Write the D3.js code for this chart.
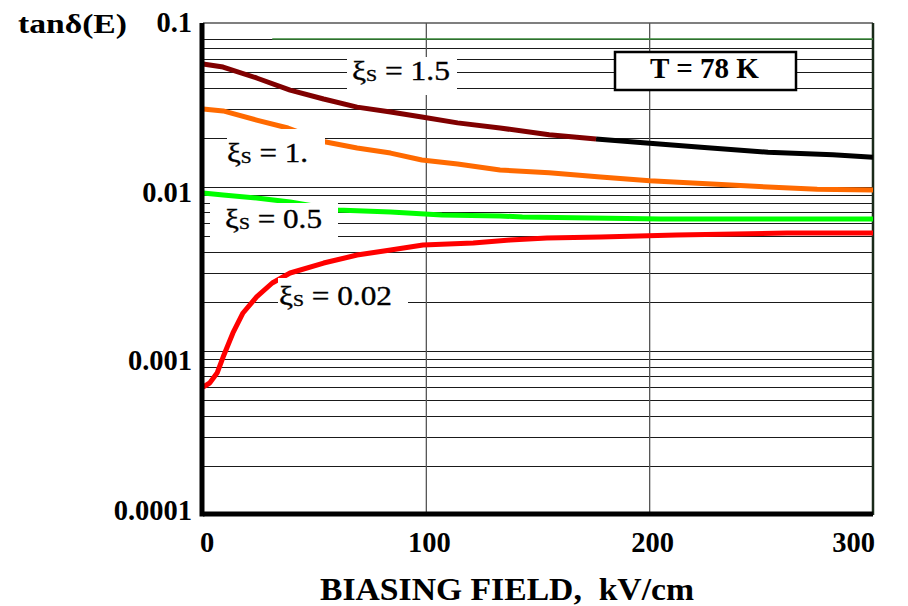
<!DOCTYPE html>
<html><head><meta charset="utf-8">
<script src="https://cdn.jsdelivr.net/npm/d3@7"></script>
<style>body{margin:0;background:#fff}svg{display:block}text{white-space:pre}</style>
</head><body>
<svg id="c" width="908" height="606"></svg>
<script>
// ---------- data ----------
const xTicks = [0, 100, 200, 300];
const xTickLabels = ["0", "100", "200", "300"];
const yTicks = [0.1, 0.01, 0.001, 0.0001];
const yTickLabels = ["0.1", "0.01", "0.001", "0.0001"];

// xi_s = 1.5 (dark red, then black beyond the switch field)
const xi15_E = [0, 9, 24, 39, 54, 69, 84, 98, 114, 133, 155, 176, 200, 223, 253, 282, 300];
const xi15_T = [0.0562, 0.0539, 0.0462, 0.0390, 0.0344, 0.0307, 0.0287, 0.0267, 0.0246, 0.0229, 0.0208, 0.0196, 0.0185, 0.0175, 0.0163, 0.0157, 0.0152];
const xi15_switch = 176;
// xi_s = 1
const xi10_E = [0, 9, 24, 38, 55, 69, 84, 98, 114, 133, 155, 178, 200, 230, 253, 275, 300];
const xi10_T = [0.0299, 0.0291, 0.0256, 0.0229, 0.0188, 0.0173, 0.0161, 0.0146, 0.0138, 0.0127, 0.0122, 0.0115, 0.0109, 0.0104, 0.0100, 0.0097, 0.0096];
// xi_s = 0.5
const xi05_E = [0, 9, 24, 39, 60, 84, 107, 133, 143, 205, 300];
const xi05_T = [0.00919, 0.00894, 0.00857, 0.00810, 0.00724, 0.00704, 0.00675, 0.00666, 0.00657, 0.00638, 0.00638];
// xi_s = 0.02
const xi002_E = [0, 3, 6.3, 9, 13.4, 17.9, 24, 31, 39, 54, 69, 84, 98.5, 121, 137.5, 154, 178, 212, 261.5, 300];
const xi002_T = [0.000603, 0.000638, 0.000734, 0.000919, 0.001288, 0.001705, 0.002135, 0.002598, 0.002989, 0.003438, 0.003848, 0.004127, 0.004427, 0.004555, 0.004751, 0.004886, 0.004955, 0.005096, 0.005241, 0.005241];
// thin green reference line
const ref_E = [31, 300];
const ref_T = [0.08, 0.08];

const seriesLabels = ["1.5", "1.", "0.5", "0.02"];
const tempLabel = "T = 78 K";
const yTitle = "tanδ(E)";
const xTitle = "BIASING FIELD,  kV/cm";

// ---------- layout ----------
const L = 203, R = 873, T = 23, B = 515;
const svg = d3.select("#c");
const x = d3.scaleLinear().domain([0, 300]).range([L, R]);
const y = d3.scaleLog().domain([0.0001, 0.1]).range([B, T]);
const serif = "'Liberation Serif','Times New Roman',serif";

// gridlines (log minor lines)
const gridVals = y.ticks().filter(v => (v > 0.0001 * 1.001 && v < 0.09 * 0.999));
svg.append("g").selectAll("line").data(gridVals).join("line")
  .attr("x1", L).attr("x2", R)
  .attr("y1", d => Math.round(y(d)) + 0.5).attr("y2", d => Math.round(y(d)) + 0.5)
  .attr("stroke", "#1a1a1a").attr("stroke-width", 1.2);

// vertical gridlines
svg.append("g").selectAll("line").data(xTicks.filter(v => v > 0 && v < 300)).join("line")
  .attr("x1", d => x(d)).attr("x2", d => x(d)).attr("y1", T).attr("y2", B)
  .attr("stroke", "#555").attr("stroke-width", 1.3);

// top & right borders
svg.append("line").attr("x1", L).attr("x2", R).attr("y1", y(0.1)).attr("y2", y(0.1)).attr("stroke", "#555").attr("stroke-width", 1.6);
svg.append("line").attr("x1", R).attr("x2", R).attr("y1", T).attr("y2", B).attr("stroke", "#1a2a1a").attr("stroke-width", 2.5);

const line = d3.line().x(d => x(d[0])).y(d => y(d[1]));
const zip = (a, b) => a.map((v, i) => [v, b[i]]);

// reference green line
svg.append("path").datum(zip(ref_E, ref_T)).attr("d", line)
  .attr("fill", "none").attr("stroke", "#3a8a3a").attr("stroke-width", 1.5);

function drawSeries(data, color) {
  svg.append("path").datum(data).attr("d", line)
    .attr("fill", "none").attr("stroke", color).attr("stroke-width", 5)
    .attr("stroke-linejoin", "round");
}
const s15 = zip(xi15_E, xi15_T);
drawSeries(s15.filter(d => d[0] <= xi15_switch), "#800000");
drawSeries(s15.filter(d => d[0] >= xi15_switch), "#000000");
drawSeries(zip(xi10_E, xi10_T), "#ff6a00");
drawSeries(zip(xi05_E, xi05_T), "#00ff00");
drawSeries(zip(xi002_E, xi002_T), "#ff0000");

// axes (thick)
svg.append("line").attr("x1", L).attr("x2", R).attr("y1", B - 1).attr("y2", B - 1).attr("stroke", "#000").attr("stroke-width", 5);
svg.append("line").attr("x1", L - 1).attr("x2", L - 1).attr("y1", T).attr("y2", B + 1.5).attr("stroke", "#000").attr("stroke-width", 5);

// series labels with white boxes
const labelBoxes = [
  {x0: 347, y0: 57, x1: 457, y1: 95, tx: 352, ty: 80, w: 98},
  {x0: 227, y0: 129, x1: 325, y1: 186, tx: 227, ty: 162, w: 81},
  {x0: 210, y0: 203, x1: 338, y1: 242, tx: 225, ty: 228, w: 97},
  {x0: 278, y0: 278, x1: 408, y1: 310, tx: 279, ty: 305, w: 113}
];
labelBoxes.forEach((b, i) => {
  svg.append("rect").attr("x", b.x0).attr("y", b.y0).attr("width", b.x1 - b.x0).attr("height", b.y1 - b.y0).attr("fill", "#fff");
  const t = svg.append("text").attr("x", b.tx).attr("y", b.ty)
    .attr("font-family", serif).attr("font-size", 27).attr("fill", "#000")
    .attr("stroke", "#000").attr("stroke-width", 0.35)
    .attr("textLength", b.w).attr("lengthAdjust", "spacingAndGlyphs");
  t.append("tspan").text("ξ");
  t.append("tspan").attr("font-size", 17).attr("dy", 1).text("S");
  t.append("tspan").attr("dy", -1).text(" = " + seriesLabels[i]);
});

// temperature box
svg.append("rect").attr("x", 615).attr("y", 52).attr("width", 181).attr("height", 38)
  .attr("fill", "#fff").attr("stroke", "#000").attr("stroke-width", 2.5);
svg.append("text").attr("x", 650).attr("y", 78)
  .attr("font-family", serif).attr("font-weight", "bold").attr("font-size", 28.5)
  .attr("textLength", 109).attr("lengthAdjust", "spacingAndGlyphs").text(tempLabel);

// y tick labels
const yDy = [9, 15, 19, 5];
svg.append("g").selectAll("text").data(yTicks).join("text")
  .attr("x", 192).attr("y", (d, i) => y(d) + yDy[i])
  .attr("text-anchor", "end").attr("font-family", serif).attr("font-weight", "bold").attr("font-size", 28.5)
  .text((d, i) => yTickLabels[i]);

// x tick labels
svg.append("g").selectAll("text").data(xTicks).join("text")
  .attr("x", (d, i) => i === xTicks.length - 1 ? x(d) + 2 : x(d) + (i === 0 ? 4 : 3))
  .attr("y", 552)
  .attr("text-anchor", (d, i) => i === xTicks.length - 1 ? "end" : "middle")
  .attr("font-family", serif).attr("font-weight", "bold").attr("font-size", 28.5)
  .text((d, i) => xTickLabels[i]);

// titles
svg.append("text").attr("x", 18).attr("y", 33).attr("font-family", serif).attr("font-weight", "bold").attr("font-size", 28)
  .attr("textLength", 109).attr("lengthAdjust", "spacingAndGlyphs").text(yTitle);
svg.append("text").attr("x", 320).attr("y", 600).attr("font-family", serif).attr("font-weight", "bold").attr("font-size", 31)
  .attr("textLength", 374).attr("lengthAdjust", "spacingAndGlyphs").text(xTitle);
</script>
</body></html>
